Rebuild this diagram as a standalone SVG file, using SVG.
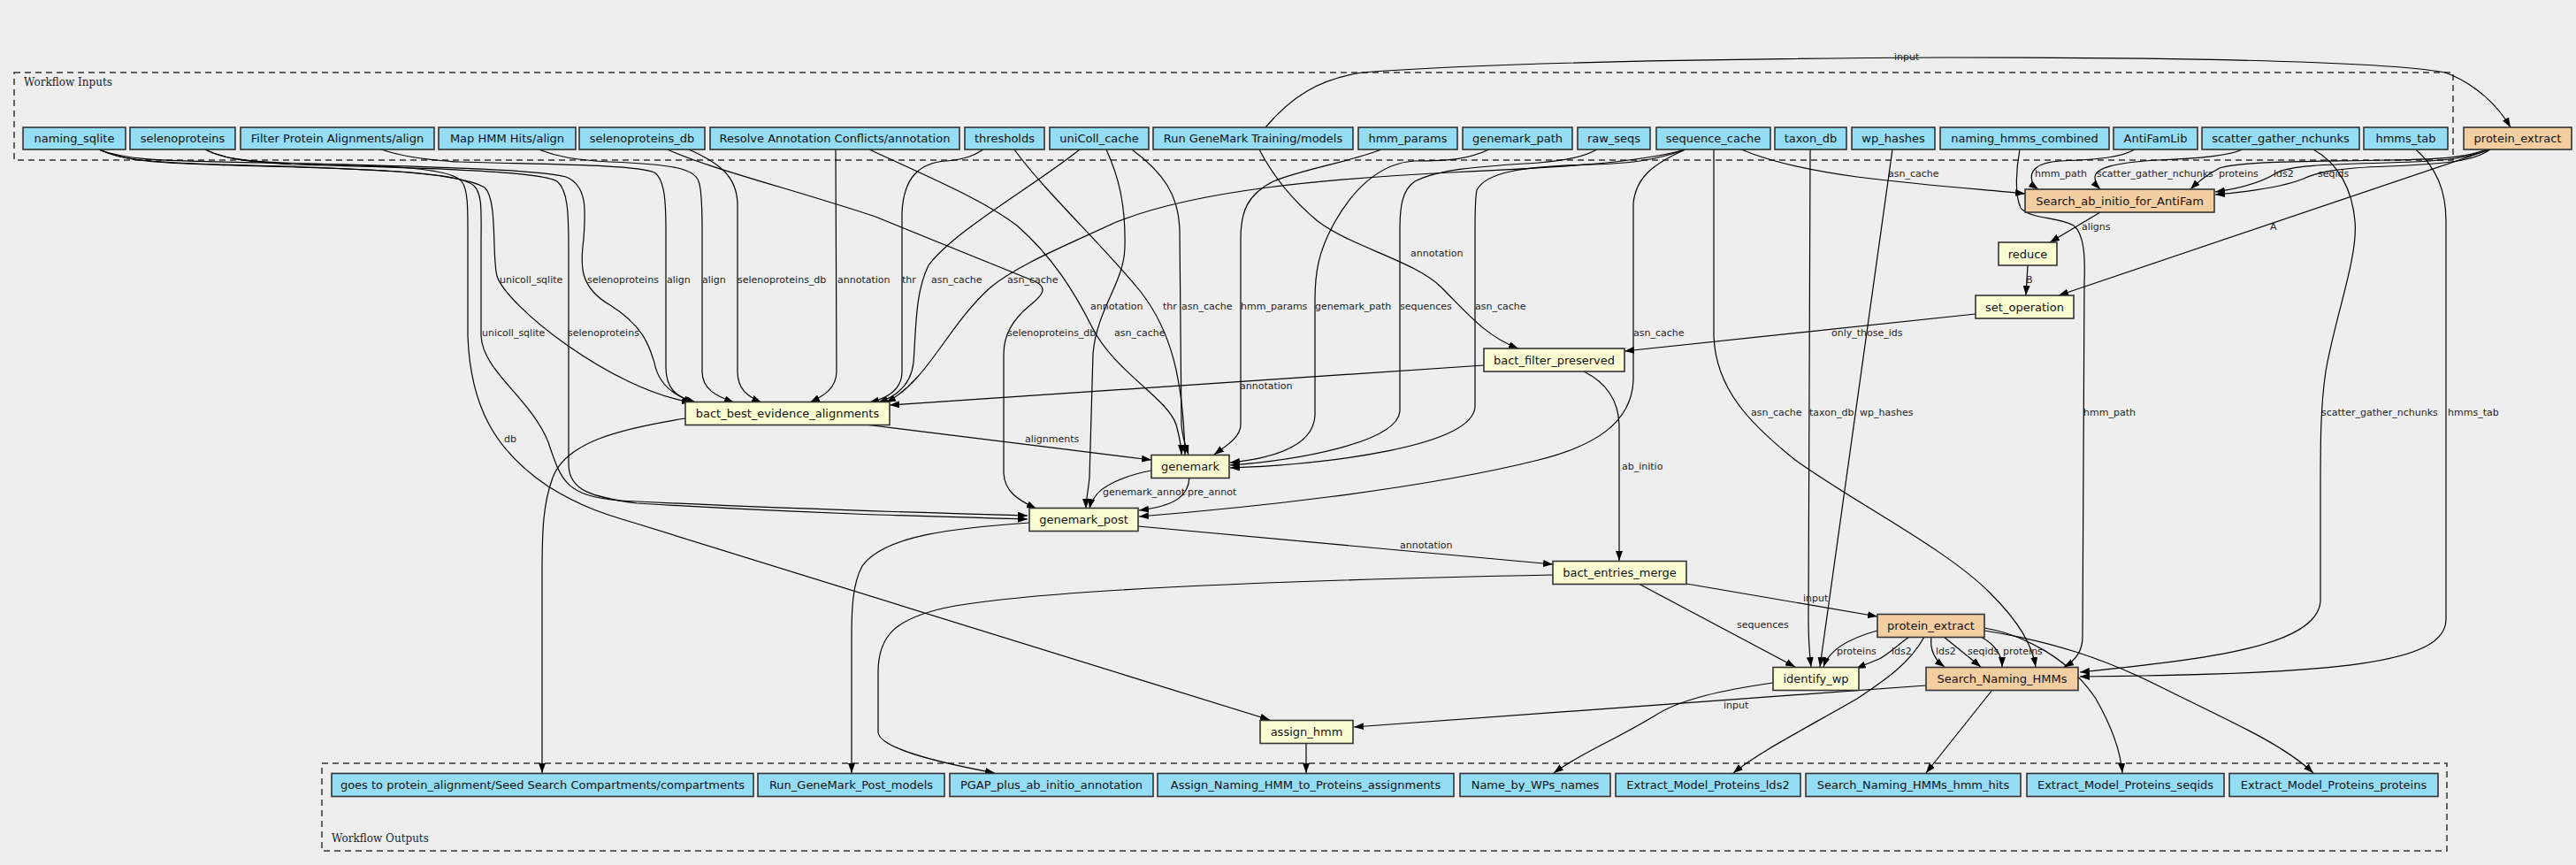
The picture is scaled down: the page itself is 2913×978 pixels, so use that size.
<svg xmlns="http://www.w3.org/2000/svg" width="2913" height="978" viewBox="0 0 2913 978">
<style>
.n rect{stroke:#333;stroke-width:1.6}
.in rect{fill:#94DDF4}
.st rect{fill:#FCFCD2}
.or rect{fill:#F3CEA1}
.n text{font-family:"DejaVu Sans",sans-serif;font-size:13px;text-anchor:middle;fill:#111}
.cl{fill:none;stroke:#333;stroke-width:1.5;stroke-dasharray:7,5}
.ct{font-family:"DejaVu Serif",serif;font-size:12px;fill:#222}
#edges path{fill:none;stroke:#000;stroke-width:1.2;marker-end:url(#ah)}
#edges text{font-family:"DejaVu Sans",sans-serif;font-size:11px;fill:#222}
</style>
<defs>
<marker id="ah" markerUnits="userSpaceOnUse" markerWidth="11" markerHeight="8" viewBox="0 0 11 8" refX="11" refY="4" orient="auto">
<path d="M0,0 L11,4 L0,8 z" fill="#000"/>
</marker>
</defs>
<rect width="2913" height="978" fill="#EEEEEE"/>
<g id="clusters">
<rect class="cl" x="16" y="82" width="2758" height="99"/>
<text class="ct" x="27" y="97">Workflow Inputs</text>
<rect class="cl" x="364" y="863" width="2403" height="99"/>
<text class="ct" x="375" y="952">Workflow Outputs</text>
</g>
<g id="edges">
<path d="M112,169 C135,180 160,183 250,186 C400,190 520,194 548,212 C563,225 556,290 562,312 C572,345 690,440 782,455"/>
<text x="565" y="320">unicoll_sqlite</text>
<path d="M112,169 C140,182 170,185 300,188 C450,192 520,196 536,210 C546,220 544,240 544,280 L544,380 C546,420 600,450 620,500 C635,545 640,560 700,566 C900,576 1050,580 1162,583"/>
<text x="545" y="380">unicoll_sqlite</text>
<path d="M112,169 C140,180 170,182 300,184 C450,187 510,190 522,205 C530,215 529,240 529,280 L529,380 C532,460 560,510 620,550 C660,575 690,583 720,592 L1436,814"/>
<text x="570" y="500">db</text>
<path d="M232,169 C250,178 270,182 320,184 C450,188 600,190 640,200 C665,210 662,240 660,270 C656,300 655,325 690,345 C730,370 735,395 740,410 C744,432 758,447 787,455"/>
<text x="664" y="320">selenoproteins</text>
<path d="M232,169 C250,179 280,183 330,186 C480,190 610,193 630,205 C642,215 643,240 643,280 L643,525 C643,555 670,562 720,569 C900,580 1050,584 1162,587"/>
<text x="642" y="380">selenoproteins</text>
<path d="M431,169 C455,177 480,181 520,183 C620,186 720,186 740,195 C752,203 753,230 753,260 L753,415 C753,440 765,448 784,455"/>
<text x="754" y="320">align</text>
<path d="M609,169 C630,177 650,181 690,183 C760,186 785,190 790,205 C794,215 794,240 794,260 L794,420 C794,440 810,448 830,455"/>
<text x="794" y="320">align</text>
<path d="M779,169 C815,185 833,200 834,230 L834,420 C834,440 845,448 861,455"/>
<text x="834" y="320">selenoproteins_db</text>
<path d="M755,169 C800,190 900,215 990,245 L1170,318 C1185,325 1180,333 1165,345 C1140,365 1135,385 1135,400 L1135,535 C1136,555 1150,565 1172,575"/>
<text x="1139" y="380">selenoproteins_db</text>
<path d="M945,169 L946,420 C946,440 930,448 916,455"/>
<text x="947" y="320">annotation</text>
<path d="M983,169 C1050,200 1110,225 1150,255 C1190,290 1215,330 1235,370 C1260,420 1320,450 1330,480 C1334,495 1336,505 1336,514"/>
<text x="1233" y="350">annotation</text>
<path d="M1112,169 C1100,177 1090,180 1070,182 C1040,184 1022,200 1020,240 L1020,420 C1020,440 1005,450 983,455"/>
<text x="1020" y="320">thr</text>
<path d="M1147,169 C1180,215 1250,280 1290,330 C1325,375 1338,430 1340,514"/>
<text x="1315" y="350">thr</text>
<path d="M1221,169 C1170,210 1080,260 1050,300 C1035,330 1036,370 1033,410 C1030,435 1015,448 993,455"/>
<text x="1053" y="320">asn_cache</text>
<path d="M1251,169 C1265,200 1273,230 1272,280 C1271,320 1240,350 1236,400 L1232,540 C1230,560 1228,565 1228,575"/>
<text x="1260" y="380">asn_cache</text>
<path d="M1280,169 C1315,195 1333,220 1334,260 L1336,480 C1337,495 1341,505 1344,514"/>
<text x="1336" y="350">asn_cache</text>
<path d="M1431,144 C1460,110 1490,90 1540,82 C1700,70 2000,66 2200,65 C2500,65 2700,70 2765,82 C2800,95 2825,120 2839,144"/>
<text x="2142" y="68">input</text>
<path d="M1424,169 C1440,200 1460,225 1490,250 C1530,280 1600,295 1630,325 C1660,355 1680,380 1717,394"/>
<text x="1595" y="290">annotation</text>
<path d="M1562,169 C1530,182 1470,192 1440,205 C1410,220 1403,240 1403,270 L1403,480 C1403,495 1385,505 1373,514"/>
<text x="1403" y="350">hmm_params</text>
<path d="M1684,169 C1660,180 1640,182 1600,182 C1560,184 1530,215 1510,250 C1490,285 1487,310 1487,340 L1487,470 C1485,505 1440,518 1391,523"/>
<text x="1487" y="350">genemark_path</text>
<path d="M1806,169 C1790,178 1770,182 1740,184 C1680,188 1630,190 1600,205 C1585,215 1583,235 1583,260 L1583,465 C1580,500 1470,520 1391,526"/>
<text x="1583" y="350">sequences</text>
<path d="M1906,169 C1870,182 1840,185 1800,186 C1720,188 1680,195 1670,215 C1668,225 1668,240 1668,260 L1668,460 C1665,505 1500,525 1391,529"/>
<text x="1668" y="350">asn_cache</text>
<path d="M1906,169 C1850,185 1750,190 1640,195 C1500,202 1350,215 1260,252 C1200,280 1150,300 1120,325 C1070,370 1050,430 1002,455"/>
<text x="1139" y="320">asn_cache</text>
<path d="M1906,169 C1870,185 1850,200 1847,230 L1847,430 C1845,480 1800,505 1740,520 C1600,555 1400,575 1288,584"/>
<text x="1847" y="380">asn_cache</text>
<path d="M1938,169 L1938,380 C1940,440 1980,480 2030,520 C2100,570 2200,620 2250,670 C2285,705 2298,730 2302,754"/>
<text x="1980" y="470">asn_cache</text>
<path d="M1969,169 C2000,182 2040,192 2100,200 C2180,210 2240,214 2290,219"/>
<text x="2135" y="200">asn_cache</text>
<path d="M2047,169 L2045,700 C2045,730 2047,745 2048,754"/>
<text x="2046" y="470">taxon_db</text>
<path d="M2140,169 L2058,754"/>
<text x="2103" y="470">wp_hashes</text>
<path d="M2284,169 C2280,190 2278,220 2285,235 C2295,248 2330,245 2345,255 C2357,265 2358,290 2357,320 L2355,720 C2355,738 2345,748 2334,754"/>
<text x="2356" y="470">hmm_path</text>
<path d="M2414,169 C2400,177 2380,180 2330,182 C2300,184 2295,195 2298,205 C2300,209 2302,212 2305,214"/>
<text x="2301" y="200">hmm_path</text>
<path d="M2536,169 C2520,176 2490,179 2440,181 C2390,184 2370,190 2369,200 C2369,206 2372,211 2375,214"/>
<text x="2371" y="200">scatter_gather_nchunks</text>
<path d="M2616,169 C2645,185 2660,215 2663,250 C2667,290 2640,360 2630,420 C2624,460 2624,500 2624,560 L2624,680 C2620,730 2500,745 2352,760"/>
<text x="2625" y="470">scatter_gather_nchunks</text>
<path d="M2732,169 C2755,190 2766,215 2766,250 L2766,700 C2766,750 2650,762 2352,765"/>
<text x="2768" y="470">hmms_tab</text>
<path d="M2812,169 C2790,177 2770,180 2700,181 C2600,183 2540,182 2510,190 C2495,198 2485,206 2477,214"/>
<text x="2509" y="200">proteins</text>
<path d="M2814,169 C2790,179 2770,182 2700,184 C2620,186 2590,188 2575,195 C2560,205 2540,212 2505,217"/>
<text x="2571" y="200">lds2</text>
<path d="M2816,169 C2800,180 2780,185 2700,188 C2640,190 2620,195 2605,202 C2580,212 2540,217 2505,220"/>
<text x="2621" y="200">seqids</text>
<path d="M2816,169 L2328,334"/>
<text x="2567" y="260">A</text>
<path d="M2375,240 L2318,274"/>
<text x="2354" y="260">aligns</text>
<path d="M2293,300 L2291,334"/>
<text x="2291" y="320">B</text>
<path d="M2234,355 L1837,397"/>
<text x="2071" y="380">only_those_ids</text>
<path d="M1678,413 L1006,458"/>
<text x="1402" y="440">annotation</text>
<path d="M1791,420 C1815,432 1830,450 1831,480 L1831,634"/>
<text x="1834" y="531">ab_initio</text>
<path d="M978,480 L1302,520"/>
<text x="1159" y="500">alignments</text>
<path d="M775,473 C700,485 640,500 625,540 C614,570 613,600 613,650 L613,874"/>
<path d="M1302,532 C1270,538 1245,550 1238,562 C1235,566 1233,570 1232,575"/>
<text x="1247" y="560">genemark_annot</text>
<path d="M1345,540 C1344,560 1330,572 1288,577"/>
<text x="1343" y="560">pre_annot</text>
<path d="M1164,591 C1080,597 1000,605 975,640 C964,660 963,690 963,720 L963,874"/>
<path d="M1287,595 L1756,638"/>
<text x="1583" y="620">annotation</text>
<path d="M1756,650 C1500,655 1200,665 1080,685 C1010,698 993,720 993,760 L993,828 C995,845 1050,860 1125,874"/>
<path d="M1853,660 L2030,754"/>
<text x="1964" y="710">sequences</text>
<path d="M1907,660 L2123,697"/>
<text x="2039" y="680">input</text>
<path d="M2123,713 C2090,722 2068,735 2062,754"/>
<text x="2077" y="740">proteins</text>
<path d="M2159,720 C2145,730 2135,740 2125,745 C2115,749 2108,752 2099,756"/>
<text x="2139" y="740">lds2</text>
<path d="M2184,720 C2182,735 2188,746 2199,754"/>
<text x="2189" y="740">lds2</text>
<path d="M2198,720 L2240,754"/>
<text x="2225" y="740">seqids</text>
<path d="M2240,720 C2258,730 2264,742 2264,754"/>
<text x="2265" y="740">proteins</text>
<path d="M2176,720 C2160,750 2130,770 2100,790 C2030,830 1990,850 1960,874"/>
<path d="M2244,710 C2290,718 2340,745 2370,790 C2390,825 2398,850 2400,874"/>
<path d="M2244,713 C2320,725 2380,745 2440,775 C2520,815 2580,840 2616,874"/>
<path d="M2253,780 L2178,874"/>
<path d="M2178,775 L1531,822"/>
<text x="1949" y="801">input</text>
<path d="M2005,772 C1950,780 1900,790 1870,810 C1820,840 1790,850 1757,874"/>
<path d="M1477,840 L1477,874"/>
</g>
<g id="n_naming_sqlite" class="n in"><rect x="26" y="144" width="116" height="25"/><text x="84" y="161">naming_sqlite</text></g>
<g id="n_selenoproteins" class="n in"><rect x="147" y="144" width="119" height="25"/><text x="206.5" y="161">selenoproteins</text></g>
<g id="n_filter_align" class="n in"><rect x="272" y="144" width="219" height="25"/><text x="381.5" y="161">Filter Protein Alignments/align</text></g>
<g id="n_map_hmm_align" class="n in"><rect x="496" y="144" width="155" height="25"/><text x="573.5" y="161">Map HMM Hits/align</text></g>
<g id="n_selenoproteins_db" class="n in"><rect x="655" y="144" width="142" height="25"/><text x="726" y="161">selenoproteins_db</text></g>
<g id="n_resolve_annotation" class="n in"><rect x="803" y="144" width="282" height="25"/><text x="944" y="161">Resolve Annotation Conflicts/annotation</text></g>
<g id="n_thresholds" class="n in"><rect x="1091" y="144" width="90" height="25"/><text x="1136" y="161">thresholds</text></g>
<g id="n_unicoll_cache" class="n in"><rect x="1187" y="144" width="112" height="25"/><text x="1243" y="161">uniColl_cache</text></g>
<g id="n_genemark_training" class="n in"><rect x="1304" y="144" width="226" height="25"/><text x="1417" y="161">Run GeneMark Training/models</text></g>
<g id="n_hmm_params" class="n in"><rect x="1536" y="144" width="112" height="25"/><text x="1592" y="161">hmm_params</text></g>
<g id="n_genemark_path" class="n in"><rect x="1654" y="144" width="124" height="25"/><text x="1716" y="161">genemark_path</text></g>
<g id="n_raw_seqs" class="n in"><rect x="1784" y="144" width="82" height="25"/><text x="1825" y="161">raw_seqs</text></g>
<g id="n_sequence_cache" class="n in"><rect x="1873" y="144" width="129" height="25"/><text x="1937.5" y="161">sequence_cache</text></g>
<g id="n_taxon_db" class="n in"><rect x="2007" y="144" width="81" height="25"/><text x="2047.5" y="161">taxon_db</text></g>
<g id="n_wp_hashes" class="n in"><rect x="2094" y="144" width="94" height="25"/><text x="2141" y="161">wp_hashes</text></g>
<g id="n_naming_hmms_combined" class="n in"><rect x="2194" y="144" width="191" height="25"/><text x="2289.5" y="161">naming_hmms_combined</text></g>
<g id="n_antifamlib" class="n in"><rect x="2390" y="144" width="95" height="25"/><text x="2437.5" y="161">AntiFamLib</text></g>
<g id="n_scatter_gather_nchunks" class="n in"><rect x="2490" y="144" width="178" height="25"/><text x="2579" y="161">scatter_gather_nchunks</text></g>
<g id="n_hmms_tab" class="n in"><rect x="2673" y="144" width="95" height="25"/><text x="2720.5" y="161">hmms_tab</text></g>
<g id="n_protein_extract_1" class="n or"><rect x="2786" y="144" width="122" height="25"/><text x="2847" y="161">protein_extract</text></g>
<g id="n_search_antifam" class="n or"><rect x="2290" y="214" width="214" height="26"/><text x="2397" y="231.5">Search_ab_initio_for_AntiFam</text></g>
<g id="n_reduce" class="n st"><rect x="2260" y="274" width="66" height="26"/><text x="2293" y="291.5">reduce</text></g>
<g id="n_set_operation" class="n st"><rect x="2234" y="334" width="111" height="26"/><text x="2289.5" y="351.5">set_operation</text></g>
<g id="n_bact_filter_preserved" class="n st"><rect x="1678" y="394" width="159" height="26"/><text x="1757.5" y="411.5">bact_filter_preserved</text></g>
<g id="n_bact_best_evidence_alignments" class="n st"><rect x="775" y="454.5" width="231" height="26"/><text x="890.5" y="472">bact_best_evidence_alignments</text></g>
<g id="n_genemark" class="n st"><rect x="1302" y="514.5" width="88" height="26"/><text x="1346" y="532">genemark</text></g>
<g id="n_genemark_post" class="n st"><rect x="1164" y="574.5" width="123" height="26"/><text x="1225.5" y="592">genemark_post</text></g>
<g id="n_bact_entries_merge" class="n st"><rect x="1756" y="634.5" width="151" height="26"/><text x="1831.5" y="652">bact_entries_merge</text></g>
<g id="n_protein_extract_2" class="n or"><rect x="2123" y="694.5" width="121" height="26"/><text x="2183.5" y="712">protein_extract</text></g>
<g id="n_identify_wp" class="n st"><rect x="2005" y="754.5" width="97" height="26"/><text x="2053.5" y="772">identify_wp</text></g>
<g id="n_search_naming_hmms" class="n or"><rect x="2178" y="754.5" width="172" height="26"/><text x="2264" y="772">Search_Naming_HMMs</text></g>
<g id="n_assign_hmm" class="n st"><rect x="1425" y="814.5" width="105" height="26"/><text x="1477.5" y="832">assign_hmm</text></g>
<g id="n_out_compartments" class="n in"><rect x="375" y="874.5" width="477" height="26"/><text x="613.5" y="892">goes to protein_alignment/Seed Search Compartments/compartments</text></g>
<g id="n_out_genemark_post_models" class="n in"><rect x="857" y="874.5" width="211" height="26"/><text x="962.5" y="892">Run_GeneMark_Post_models</text></g>
<g id="n_out_pgap" class="n in"><rect x="1074" y="874.5" width="230" height="26"/><text x="1189" y="892">PGAP_plus_ab_initio_annotation</text></g>
<g id="n_out_assign" class="n in"><rect x="1309" y="874.5" width="335" height="26"/><text x="1476.5" y="892">Assign_Naming_HMM_to_Proteins_assignments</text></g>
<g id="n_out_wp_names" class="n in"><rect x="1651" y="874.5" width="170" height="26"/><text x="1736" y="892">Name_by_WPs_names</text></g>
<g id="n_out_lds2" class="n in"><rect x="1827" y="874.5" width="209" height="26"/><text x="1931.5" y="892">Extract_Model_Proteins_lds2</text></g>
<g id="n_out_hmm_hits" class="n in"><rect x="2042" y="874.5" width="243" height="26"/><text x="2163.5" y="892">Search_Naming_HMMs_hmm_hits</text></g>
<g id="n_out_seqids" class="n in"><rect x="2292" y="874.5" width="223" height="26"/><text x="2403.5" y="892">Extract_Model_Proteins_seqids</text></g>
<g id="n_out_proteins" class="n in"><rect x="2521" y="874.5" width="236" height="26"/><text x="2639" y="892">Extract_Model_Proteins_proteins</text></g>
</svg>
